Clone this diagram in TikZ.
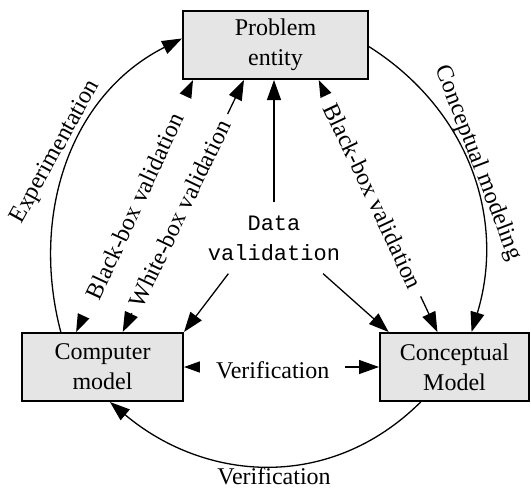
\documentclass[tikz,border=0pt]{standalone}
\usepackage{fontspec}
\setmainfont{Liberation Serif}
\setmonofont{Liberation Mono}
\usetikzlibrary{arrows.meta}
\definecolor{boxgray}{gray}{0.9}
\tikzset{box/.style = {draw, line width=2pt, fill=boxgray, minimum height=68pt,
                       align=center, inner sep=0pt, font=\fontsize{24}{30}\selectfont},
         arr/.style = {line width=1.3pt, -{Triangle[length=20pt, width=14pt]}},
         darr/.style = {line width=1.3pt, {Triangle[length=20pt, width=14pt]}-{Triangle[length=20pt, width=14pt]}},
         lab/.style = {fill=white, inner ysep=2pt, font=\fontsize{24}{30}\selectfont}}

\begin{document}
\begin{tikzpicture}[x=1pt, y=-1pt]
  \useasboundingbox (0, 0) rectangle (531, 488);

  \node [box, minimum width=185pt] (prob) at (275.5, 45) {Problem\\entity};
  \node [box, minimum width=161pt] (comp) at (102.5, 367) {Computer\\model};
  \node [box, minimum width=149pt] (conc) at (454.5, 367) {Conceptual\\Model};
  \node [align=center, inner xsep=13pt, inner ysep=13pt, font=\ttfamily\fontsize{22}{30}\selectfont] (data) at (274, 238) {Data\\validation};

  \draw [arr] (comp.140) .. controls (30, 215) and (70, 95) .. (prob.176);
  \draw [arr] (prob.-1) .. controls (469, 110) and (506, 219) .. (conc.64);
  \draw [arr] (conc.226) .. controls (330, 492) and (205, 482) .. (comp.-78);

  \node [rotate=61, font=\fontsize{24}{30}\selectfont] (exper) at (56, 152) {Experimentation};
  \node [rotate=-69, font=\fontsize{24}{30}\selectfont] (cmod) at (478, 163) {Conceptual modeling};
  \node [font=\fontsize{24}{30}\selectfont] (verb) at (274, 476) {Verification};

  \draw [darr] (prob.203) -- node [lab, sloped, inner xsep=20pt] (bbl) {Black-box validation} (comp.127);
  \draw [darr] (prob.228) -- node [lab, sloped, pos=0.53, inner xsep=8pt] (wbl) {White-box validation} (comp.60);
  \draw [darr] (prob.-39) -- node [lab, sloped, pos=0.46, inner xsep=10pt] (bbr) {Black-box validation} (conc.116);
  \draw [darr] (comp.east) -- node [lab, pos=0.455, inner xsep=16pt, yshift=-3pt] (verm) {Verification} (conc.west);

  \draw [arr] (data.north) -- (data.north |- prob.south);
  \draw [arr] (data.218) -- (comp.north east);
  \draw [arr] (data.324) -- (conc.152);
\end{tikzpicture}
\end{document}
